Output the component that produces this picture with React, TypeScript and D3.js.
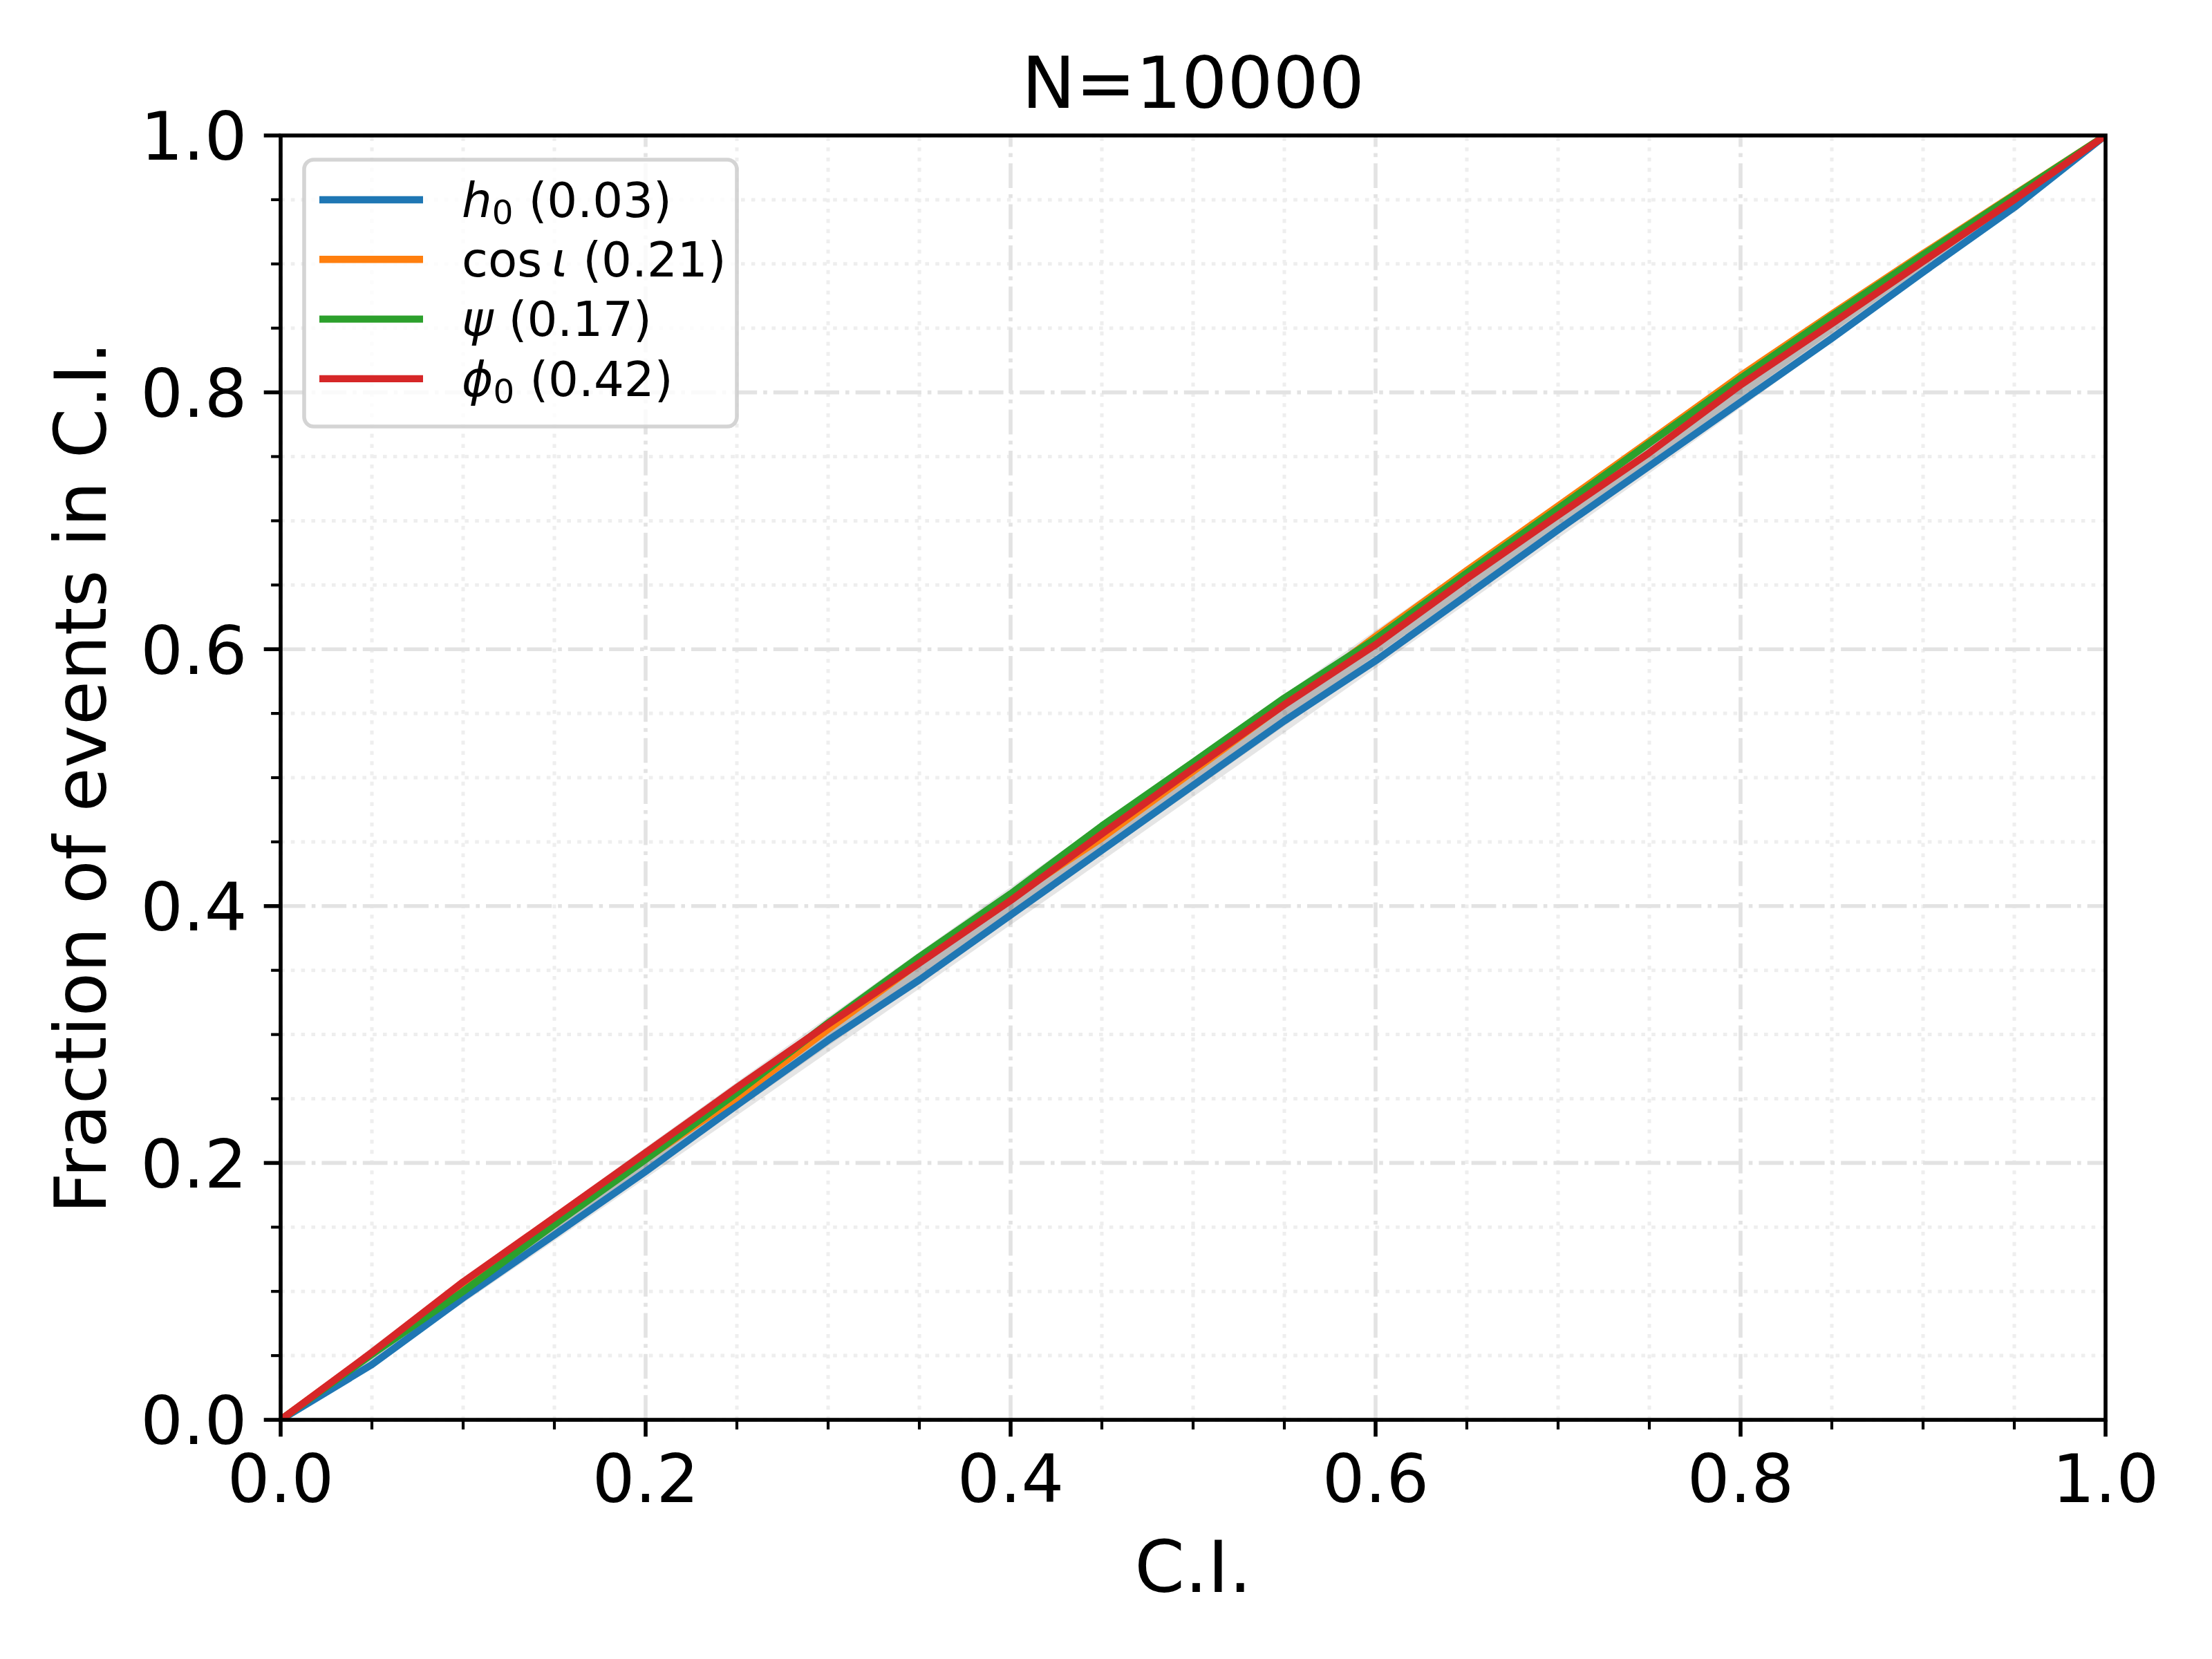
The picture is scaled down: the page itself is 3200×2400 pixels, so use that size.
import * as d3 from "d3";

// figure size and axes box, in px (matplotlib figure at 500 dpi)
const WIDTH = 3200;
const HEIGHT = 2400;
const PLOT = { left: 406, right: 3046, top: 196, bottom: 2054 };

// credible-interval grid (C.I.)
const ciGrid = [0, 0.05, 0.1, 0.15, 0.2, 0.25, 0.3, 0.35, 0.4, 0.45, 0.5, 0.55, 0.6, 0.65, 0.7, 0.75, 0.8, 0.85, 0.9, 0.95, 1];

// half widths of the grey confidence bands (68%, 95%, 99.7%)
const band68 = [0, 0.0022, 0.003, 0.0036, 0.004, 0.0043, 0.0046, 0.0048, 0.0049, 0.005, 0.005, 0.005, 0.0049, 0.0048, 0.0046, 0.0043, 0.004, 0.0036, 0.003, 0.0022, 0];
const band95 = [0, 0.0043, 0.0059, 0.007, 0.0078, 0.0085, 0.009, 0.0093, 0.0096, 0.0098, 0.0098, 0.0098, 0.0096, 0.0093, 0.009, 0.0085, 0.0078, 0.007, 0.0059, 0.0043, 0];
const band997 = [0, 0.0065, 0.009, 0.0107, 0.012, 0.013, 0.0137, 0.0143, 0.0147, 0.0149, 0.015, 0.0149, 0.0147, 0.0143, 0.0137, 0.013, 0.012, 0.0107, 0.009, 0.0065, 0];

// fraction of events in C.I., one list per parameter
const h0Frac = [0, 0.043, 0.095, 0.144, 0.1934, 0.245, 0.2955, 0.3425, 0.393, 0.4435, 0.494, 0.5442, 0.591, 0.642, 0.693, 0.7426, 0.7924, 0.842, 0.8936, 0.944, 1];
const cosIotaFrac = [0, 0.052, 0.103, 0.154, 0.203, 0.251, 0.304, 0.356, 0.406, 0.453, 0.505, 0.557, 0.61, 0.6613, 0.7115, 0.762, 0.813, 0.861, 0.908, 0.954, 1];
const psiFrac = [0, 0.051, 0.1, 0.152, 0.2027, 0.2545, 0.309, 0.3605, 0.4095, 0.4624, 0.512, 0.562, 0.608, 0.6593, 0.7095, 0.7605, 0.811, 0.8597, 0.907, 0.9535, 1];
const phi0Frac = [0, 0.0525, 0.1074, 0.1575, 0.208, 0.2587, 0.308, 0.3556, 0.4043, 0.4562, 0.507, 0.5568, 0.6035, 0.655, 0.7043, 0.753, 0.8058, 0.8535, 0.902, 0.95, 1];

const pValues = [0.03, 0.21, 0.17, 0.42];
const colors = ["#1f77b4", "#ff7f0e", "#2ca02c", "#d62728"];
const tickLabels = ["0.0", "0.2", "0.4", "0.6", "0.8", "1.0"];

type Part = { t: string; it?: boolean; sub?: boolean };

// mathtext-like labels: $h_0$, $\cos\iota$, $\psi$, $\phi_0$
const labelParts: Part[][] = [
    [{ t: "h", it: true }, { t: "0", sub: true }],
    [{ t: "cos" }, { t: "\u2009" }, { t: "\u03b9", it: true }],
    [{ t: "\u03c8", it: true }],
    [{ t: "\u03d5", it: true }, { t: "0", sub: true }],
];

const FONT = "'DejaVu Sans', sans-serif";
const TICK_FS = 97;
const LABEL_FS = 104;
const LEGEND_FS = 69;

export default function App() {
    const x = d3.scaleLinear().domain([0, 1]).range([PLOT.left, PLOT.right]);
    const y = d3.scaleLinear().domain([0, 1]).range([PLOT.bottom, PLOT.top]);

    const majors = x.ticks(5);
    const minors = x.ticks(20).filter(t => !majors.some(m => Math.abs(m - t) < 1e-9));

    const series = [h0Frac, cosIotaFrac, psiFrac, phi0Frac];

    const band = (hw: number[]) =>
        d3.area<number>()
            .x((_, i) => x(ciGrid[i]))
            .y0((d, i) => y(d - hw[i]))
            .y1((d, i) => y(d + hw[i]))(ciGrid) ?? "";

    const line = d3.line<number>()
        .x((_, i) => x(ciGrid[i]))
        .y(d => y(d));

    const majorLw = 5.6;
    const minorLw = 5;

    // legend geometry
    const lg = { x: 440, y: 231, w: 626, h: 386 };
    const rowY = (i: number) => 289 + i * 86.3;

    return (
        <svg width={WIDTH} height={HEIGHT} style={{ position: "absolute", left: 0, top: 0, background: "#fff" }}
            fontFamily={FONT}>
            <defs>
                <clipPath id="plotClip">
                    <rect x={PLOT.left} y={PLOT.top} width={PLOT.right - PLOT.left} height={PLOT.bottom - PLOT.top} />
                </clipPath>
            </defs>
            <rect x={0} y={0} width={WIDTH} height={HEIGHT} fill="#fff" />

            {/* minor grid (dotted) */}
            <g stroke="#eeeeee" strokeWidth={minorLw} strokeDasharray="5.6 9.2">
                {minors.map(t => (
                    <line key={"mvx" + t} x1={x(t)} x2={x(t)} y1={PLOT.bottom} y2={PLOT.top} />
                ))}
                {minors.map(t => (
                    <line key={"mhy" + t} x1={PLOT.left} x2={PLOT.right} y1={y(t)} y2={y(t)} />
                ))}
            </g>
            {/* major grid (dash-dot) */}
            <g stroke="#e3e3e3" strokeWidth={majorLw} strokeDasharray="35.8 9 5.6 9">
                {majors.map(t => (
                    <line key={"Mvx" + t} x1={x(t)} x2={x(t)} y1={PLOT.bottom} y2={PLOT.top} />
                ))}
                {majors.map(t => (
                    <line key={"Mhy" + t} x1={PLOT.left} x2={PLOT.right} y1={y(t)} y2={y(t)} />
                ))}
            </g>

            <g clipPath="url(#plotClip)">
                {/* confidence bands */}
                {[band68, band95, band997].map((hw, i) => (
                    <path key={"band" + i} d={band(hw)} fill="#000" fillOpacity={0.1} />
                ))}
                {/* pp lines */}
                {series.map((s, i) => (
                    <path key={"s" + i} d={line(s) ?? ""} fill="none" stroke={colors[i]}
                        strokeWidth={10.4} strokeLinejoin="round" strokeLinecap="square" />
                ))}
            </g>

            {/* spines */}
            <rect x={PLOT.left} y={PLOT.top} width={PLOT.right - PLOT.left} height={PLOT.bottom - PLOT.top}
                fill="none" stroke="#000" strokeWidth={5.6} strokeLinecap="square" />

            {/* ticks */}
            <g stroke="#000">
                {majors.map(t => (
                    <line key={"xt" + t} x1={x(t)} x2={x(t)} y1={PLOT.bottom} y2={PLOT.bottom + 24.3} strokeWidth={5.6} />
                ))}
                {minors.map(t => (
                    <line key={"xm" + t} x1={x(t)} x2={x(t)} y1={PLOT.bottom} y2={PLOT.bottom + 13.9} strokeWidth={4.2} />
                ))}
                {majors.map(t => (
                    <line key={"yt" + t} x1={PLOT.left - 24.3} x2={PLOT.left} y1={y(t)} y2={y(t)} strokeWidth={5.6} />
                ))}
                {minors.map(t => (
                    <line key={"ym" + t} x1={PLOT.left - 13.9} x2={PLOT.left} y1={y(t)} y2={y(t)} strokeWidth={4.2} />
                ))}
            </g>

            {/* tick labels */}
            <g fontSize={TICK_FS} fill="#000">
                {majors.map((t, i) => (
                    <text key={"xl" + t} x={x(t)} y={PLOT.bottom + 48.6 + 0.729 * TICK_FS} textAnchor="middle">
                        {tickLabels[i]}
                    </text>
                ))}
                {majors.map((t, i) => (
                    <text key={"yl" + t} x={PLOT.left - 48.6} y={y(t) + 0.364 * TICK_FS} textAnchor="end">
                        {tickLabels[i]}
                    </text>
                ))}
            </g>

            {/* axis labels and title */}
            <text x={(PLOT.left + PLOT.right) / 2} y={2303} fontSize={LABEL_FS} textAnchor="middle">C.I.</text>
            <text transform={`translate(153,${(PLOT.top + PLOT.bottom) / 2}) rotate(-90)`} fontSize={LABEL_FS}
                textAnchor="middle">Fraction of events in C.I.</text>
            <text x={(PLOT.left + PLOT.right) / 2} y={156} fontSize={LABEL_FS} textAnchor="middle">N=10000</text>

            {/* legend */}
            <g>
                <rect x={lg.x} y={lg.y} width={lg.w} height={lg.h} rx={14} ry={14}
                    fill="#fff" fillOpacity={0.8} stroke="#cccccc" strokeOpacity={0.85} strokeWidth={5.6} />
                {labelParts.map((parts, i) => {
                    const cy = rowY(i);
                    let shift = 0;
                    return (
                        <g key={"lg" + i}>
                            <line x1={462} x2={612} y1={cy} y2={cy} stroke={colors[i]} strokeWidth={10.4} />
                            <text x={668} y={cy + 0.36 * LEGEND_FS} fontSize={LEGEND_FS}>
                                {parts.map((p, j) => {
                                    const target = p.sub ? 10 : 0;
                                    const dy = target - shift;
                                    shift = target;
                                    return (
                                        <tspan key={j} dy={dy} fontStyle={p.it ? "italic" : "normal"}
                                            fontSize={p.sub ? LEGEND_FS * 0.7 : LEGEND_FS}>{p.t}</tspan>
                                    );
                                })}
                                <tspan dy={-shift}>{` (${pValues[i].toFixed(2)})`}</tspan>
                            </text>
                        </g>
                    );
                })}
            </g>
        </svg>
    );
}
